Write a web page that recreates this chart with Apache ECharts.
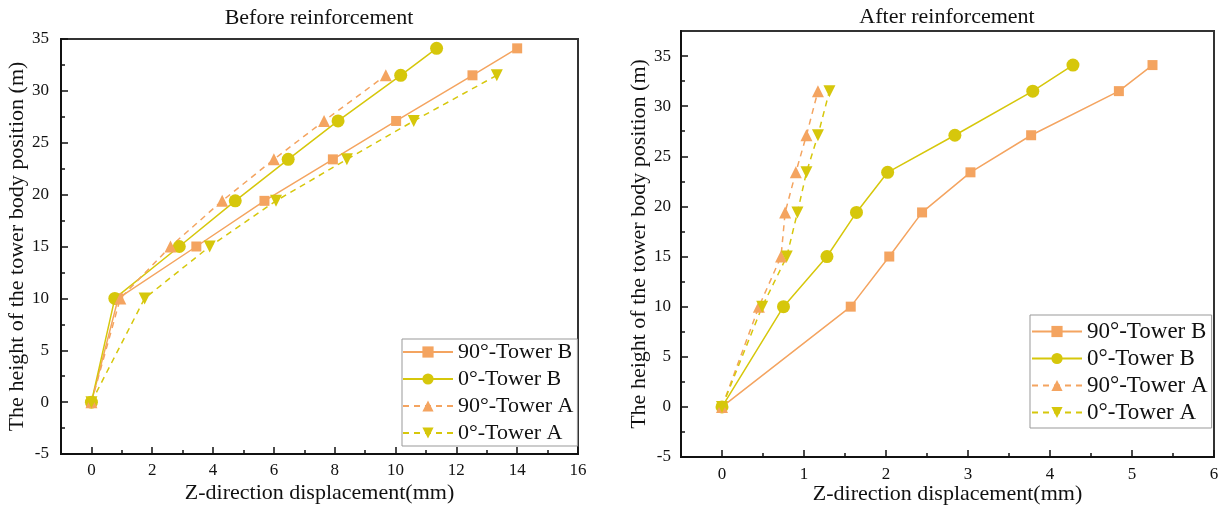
<!DOCTYPE html>
<html>
<head>
<meta charset="utf-8">
<script src="https://cdn.jsdelivr.net/npm/echarts@6/dist/echarts.min.js"></script>
<style>
html,body{margin:0;padding:0;background:#fff;}
#chart{width:1228px;height:510px;}
</style>
</head>
<body>
<div id="chart"></div>
<script>
// ---- data ----
const seriesNames = ['90°-Tower B', '0°-Tower B', '90°-Tower A', '0°-Tower A'];
const heightsB = [0, 10, 15, 19.4, 23.4, 27.1, 31.5, 34.1];
const heightsA = [0, 10, 15, 19.4, 23.4, 27.1, 31.5];

const beforeB90 = [0, 0.88, 3.45, 5.69, 7.94, 10.02, 12.53, 14.0];
const beforeB0  = [0, 0.77, 2.89, 4.73, 6.47, 8.11, 10.17, 11.35];
const beforeA90 = [0, 0.95, 2.6, 4.3, 6.0, 7.65, 9.68];
const beforeA0  = [0, 1.75, 3.89, 6.07, 8.4, 10.6, 13.33];

const afterB90 = [0, 1.57, 2.04, 2.44, 3.03, 3.77, 4.84, 5.25];
const afterB0  = [0, 0.75, 1.28, 1.64, 2.02, 2.84, 3.79, 4.28];
const afterA90 = [0, 0.45, 0.72, 0.77, 0.90, 1.03, 1.17];
const afterA0  = [0, 0.49, 0.79, 0.92, 1.03, 1.17, 1.31];

const leftXTicks  = [0, 2, 4, 6, 8, 10, 12, 14, 16];
const leftXMinor  = [1, 3, 5, 7, 9, 11, 13, 15];
const rightXTicks = [0, 1, 2, 3, 4, 5, 6];
const rightXMinor = [0.5, 1.5, 2.5, 3.5, 4.5, 5.5];
const yTicks      = [-5, 0, 5, 10, 15, 20, 25, 30, 35];
const yMinor      = [-2.5, 2.5, 7.5, 12.5, 17.5, 22.5, 27.5, 32.5];

const titles = ['Before reinforcement', 'After reinforcement'];
const xName = 'Z-direction displacement(mm)';
const yName = 'The height of the tower body position (m)';

// ---- styles ----
const FONT = '"Liberation Serif", "Times New Roman", serif';
const ORANGE = '#F4A460';
const YELLOW = '#D6C70B';

function pairs(xs, hs) { return xs.map((x, i) => [x, hs[i]]); }

function majorAxis(dim, gridIndex, min, max, ticks, name, nameGap, labelMargin) {
  return {
    type: 'value', gridIndex, min, max,
    position: dim === 'x' ? 'bottom' : 'left',
    name, nameLocation: 'middle', nameGap, nameMoveOverlap: false,
    nameTextStyle: { fontFamily: FONT, fontSize: 22, color: '#111' },
    axisLine: { show: true, onZero: false, lineStyle: { color: '#111', width: 2 } },
    axisTick: { show: true, inside: true, length: 7, customValues: ticks, lineStyle: { color: '#111', width: 1.5 } },
    axisLabel: { show: true, customValues: ticks, margin: labelMargin, fontFamily: FONT, fontSize: 17, color: '#111' },
    splitLine: { show: false }
  };
}
function minorAxis(dim, gridIndex, min, max, ticks) {
  return {
    type: 'value', gridIndex, min, max,
    position: dim === 'x' ? 'bottom' : 'left',
    axisLine: { show: false, onZero: false },
    axisTick: { show: true, inside: true, length: 4, customValues: ticks, lineStyle: { color: '#111', width: 1.5 } },
    axisLabel: { show: false },
    splitLine: { show: false }
  };
}

function makeSeries(xi, yi, b90, b0, a90, a0) {
  return [
    { name: seriesNames[0], type: 'line', xAxisIndex: xi, yAxisIndex: yi, data: pairs(b90, heightsB),
      symbol: 'rect', symbolSize: 10, itemStyle: { color: ORANGE }, lineStyle: { color: ORANGE, width: 1.5 } },
    { name: seriesNames[1], type: 'line', xAxisIndex: xi, yAxisIndex: yi, data: pairs(b0, heightsB),
      symbol: 'circle', symbolSize: 13, itemStyle: { color: YELLOW }, lineStyle: { color: YELLOW, width: 1.5 } },
    { name: seriesNames[2], type: 'line', xAxisIndex: xi, yAxisIndex: yi, data: pairs(a90, heightsA),
      symbol: 'triangle', symbolSize: 12, itemStyle: { color: ORANGE }, lineStyle: { color: ORANGE, width: 1.5, type: [6, 5] } },
    { name: seriesNames[3], type: 'line', xAxisIndex: xi, yAxisIndex: yi, data: pairs(a0, heightsA),
      symbol: 'triangle', symbolRotate: 180, symbolSize: 12, itemStyle: { color: YELLOW }, lineStyle: { color: YELLOW, width: 1.5, type: [6, 5] } }
  ].map(s => Object.assign(s, { showSymbol: true, animation: false, z: 3 }));
}

function legend(left, top, padding, itemGap, fontSize) {
  return {
    data: seriesNames, orient: 'vertical', left, top,
    itemWidth: 50, itemHeight: 14, itemGap,
    padding, backgroundColor: '#fff', borderColor: '#999', borderWidth: 1, borderRadius: 0,
    textStyle: { fontFamily: FONT, fontSize, color: '#111' },
    selectedMode: false
  };
}

const chart = echarts.init(document.getElementById('chart'), null, { renderer: 'canvas' });
chart.setOption({
  animation: false,
  backgroundColor: '#fff',
  title: [
    { text: titles[0], left: 314, top: 2, textAlign: 'center', textStyle: { fontFamily: FONT, fontSize: 22, fontWeight: 'normal', color: '#111' } },
    { text: titles[1], left: 942, top: 1, textAlign: 'center', textStyle: { fontFamily: FONT, fontSize: 22, fontWeight: 'normal', color: '#111' } }
  ],
  grid: [
    { left: 61, top: 39, width: 517, height: 415, show: true, borderColor: '#333', borderWidth: 2, backgroundColor: 'transparent' },
    { left: 681, top: 31, width: 533, height: 429, show: true, borderColor: '#333', borderWidth: 2, backgroundColor: 'transparent' }
  ],
  xAxis: [
    majorAxis('x', 0, -1, 16, leftXTicks, xName, 28, 8),
    minorAxis('x', 0, -1, 16, leftXMinor),
    majorAxis('x', 1, -0.5, 6, rightXTicks, xName, 26, 9),
    minorAxis('x', 1, -0.5, 6, rightXMinor)
  ],
  yAxis: [
    majorAxis('y', 0, -5, 35, yTicks, yName, 33, 12),
    minorAxis('y', 0, -5, 35, yMinor),
    majorAxis('y', 1, -5, 37.5, yTicks, yName, 31, 10),
    minorAxis('y', 1, -5, 37.5, yMinor)
  ],
  legend: [
    legend(402, 339, [2, 4, 2, 0], 5, 22),
    legend(1030, 315, [5, 4, 4, 1], 4, 23)
  ],
  series: [].concat(
    makeSeries(0, 0, beforeB90, beforeB0, beforeA90, beforeA0),
    makeSeries(2, 2, afterB90, afterB0, afterA90, afterA0)
  )
});
</script>
</body>
</html>
